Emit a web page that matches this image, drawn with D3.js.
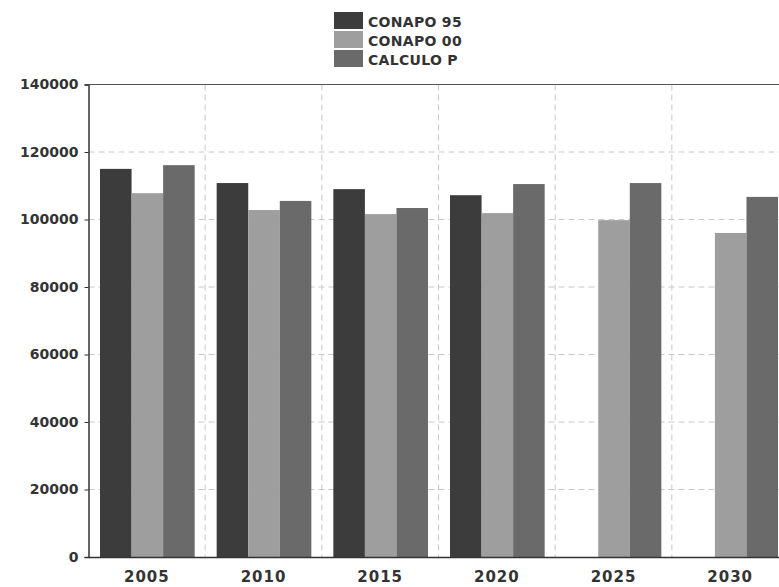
<!DOCTYPE html>
<html>
<head>
<meta charset="utf-8">
<script src="https://cdn.jsdelivr.net/npm/d3@7"></script>
<style>
  html, body { margin: 0; padding: 0; background: #fff; }
  svg { display: block; }
  text { font-family: "DejaVu Sans", Verdana, sans-serif; }
</style>
</head>
<body>
<svg id="chart" width="779" height="587"></svg>
<script>
// Population projections by year
const years = ["2005", "2010", "2015", "2020", "2025", "2030"];
const seriesNames = ["CONAPO 95", "CONAPO 00", "CALCULO P"];
const conapo95 = [115000, 110800, 109000, 107200, null, null];
const conapo00 = [107800, 102800, 101600, 101900, 99800, 96000];
const calculoP = [116100, 105500, 103400, 110500, 110800, 106700];
const yTicks = [0, 20000, 40000, 60000, 80000, 100000, 120000, 140000];
const colors = ["#3c3c3c", "#9e9e9e", "#6a6a6a"];

const series = [conapo95, conapo00, calculoP];

const svg = d3.select("#chart");
const margin = { left: 88.5, top: 84.5, bottom: 557 };
const plotRight = 88.5 + 6 * 116.67;

const x0 = d3.scaleBand().domain(years).range([margin.left, plotRight]).padding(0);
const x1 = d3.scaleBand().domain(seriesNames)
  .range([11.5, x0.bandwidth() - 10.5]).padding(0);
const y = d3.scaleLinear().domain([0, 140000]).range([margin.bottom, margin.top]);

// grid
const grid = svg.append("g").attr("stroke", "#c8c8c8").attr("stroke-dasharray", "6,4");
grid.selectAll("line.h").data(yTicks.slice(1, -1)).join("line")
  .attr("x1", margin.left).attr("x2", plotRight)
  .attr("y1", d => y(d)).attr("y2", d => y(d));
grid.selectAll("line.v").data(years.slice(1)).join("line")
  .attr("x1", d => x0(d)).attr("x2", d => x0(d))
  .attr("y1", margin.top).attr("y2", margin.bottom);

// plot frame top
svg.append("line")
  .attr("x1", margin.left).attr("x2", plotRight)
  .attr("y1", y(140000)).attr("y2", y(140000))
  .attr("stroke", "#555").attr("stroke-width", 1);

// bars
const rows = [];
years.forEach((yr, i) => {
  seriesNames.forEach((s, j) => {
    if (series[j][i] != null) rows.push({ yr, s, j, v: series[j][i] });
  });
});
svg.append("g").selectAll("rect").data(rows).join("rect")
  .attr("x", d => x0(d.yr) + x1(d.s))
  .attr("width", x1.bandwidth())
  .attr("y", d => y(d.v))
  .attr("height", d => y(0) - y(d.v))
  .attr("fill", d => colors[d.j]);

// y axis
const yAxis = d3.axisLeft(y).tickValues(yTicks).tickSize(4).tickPadding(6)
  .tickFormat(d3.format("d"));
const gy = svg.append("g").attr("transform", `translate(${margin.left},0)`).call(yAxis);
gy.select(".domain").attr("stroke", "#333").attr("stroke-width", 1.5);
gy.selectAll(".tick line").attr("stroke", "#333");
gy.selectAll(".tick text").attr("font-size", 14).attr("font-weight", "bold").attr("fill", "#333");

// x axis
const xAxis = d3.axisBottom(x0).tickSize(0).tickPadding(14);
const gx = svg.append("g").attr("transform", `translate(0,${margin.bottom})`).call(xAxis);
gx.select(".domain").attr("stroke", "#333").attr("stroke-width", 1.5);
gx.selectAll(".tick text").attr("font-size", 15).attr("font-weight", "bold")
  .attr("fill", "#333").attr("letter-spacing", 1);

// legend
const legend = svg.append("g").attr("transform", "translate(334,12)");
const li = legend.selectAll("g").data(seriesNames).join("g")
  .attr("transform", (d, i) => `translate(0,${i * 19})`);
li.append("rect").attr("width", 29).attr("height", 17).attr("fill", (d, i) => colors[i]);
li.append("text").attr("x", 34).attr("y", 14.5).text(d => d)
  .attr("font-size", 14).attr("font-weight", "bold").attr("fill", "#333")
  .attr("letter-spacing", 0.3);
</script>
</body>
</html>
